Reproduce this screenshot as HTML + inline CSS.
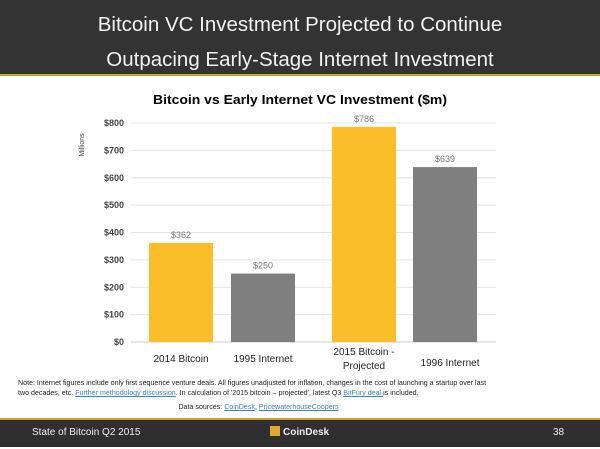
<!DOCTYPE html>
<html><head><meta charset="utf-8"><style>
body{margin:0;width:600px;height:449px;overflow:hidden;background:#fff;font-family:"Liberation Sans",Arial,sans-serif;position:relative}
.hdr{position:absolute;left:0;top:0;width:600px;height:76px;background:#333;border-bottom:2px solid #c9a227;color:#f2f2f2;text-align:center;font-size:20.5px;line-height:35px;padding-top:7px;box-sizing:border-box}
.ftr{position:absolute;left:0;top:418px;width:600px;height:29px;background:#2f2f2f;border-top:2px solid #c9a227;box-sizing:border-box;color:#eee;font-size:10px}
.note{position:absolute;left:18px;top:378px;width:476px;font-size:7.1px;line-height:10px;color:#222}
a{color:#3a7fc9;text-decoration:underline}
</style></head><body>
<div class="hdr">Bitcoin VC Investment Projected to Continue<br>Outpacing Early-Stage Internet Investment</div>
<svg id="chart" width="600" height="449" style="position:absolute;left:0;top:0">
<text x="300" y="104" text-anchor="middle" font-size="13" font-weight="bold" fill="#000" textLength="294" lengthAdjust="spacingAndGlyphs">Bitcoin vs Early Internet VC Investment ($m)</text>
<text transform="translate(84,145) rotate(-90)" text-anchor="middle" font-size="7" fill="#444">Millions</text>
<g id="grid"></g><g id="bars"></g>
</svg>
<div class="note">Note: Internet figures include only first sequence venture deals. All figures unadjusted for inflation, changes in the cost of launching a startup over last two decades, etc. <a>Further methodology discussion</a>. In calculation of '2015 bitcoin – projected', latest Q3 <a>BitFury deal </a>is included.
<div style="text-align:center;margin-top:4px;padding-left:5px">Data sources: <a>CoinDesk</a>, <a>PricewaterhouseCoopers</a></div></div>
<div class="ftr">
<span style="position:absolute;left:32px;top:7px">State of Bitcoin Q2 2015</span>
<span style="position:absolute;left:270px;top:6px;font-weight:bold;font-size:10px"><span style="display:inline-block;width:10px;height:10px;background:#e0a82e;vertical-align:-1px;margin-right:3px"></span>CoinDesk</span>
<span style="position:absolute;left:553px;top:7px">38</span>
</div>
<script>
const categories=["2014 Bitcoin","1995 Internet","2015 Bitcoin -|Projected","1996 Internet"];
const values=[362,250,786,639];
const valueLabels=["$362","$250","$786","$639"];
const ticks=[0,100,200,300,400,500,600,700,800];
const colors=["#fbbd2a","#7f7f7f","#fbbd2a","#7f7f7f"];
const NS="http://www.w3.org/2000/svg";
const y=v=>342-v*(219/800);
const barX=[149,231,332,413],bw=64;
const grid=document.getElementById('grid'),bars=document.getElementById('bars');
function mk(t,a,p,txt){const e=document.createElementNS(NS,t);for(const k in a)e.setAttribute(k,a[k]);if(txt!==undefined)e.textContent=txt;p.appendChild(e);return e;}
ticks.forEach(t=>{
 const l=mk('line',{x1:131,x2:496,y1:y(t),y2:y(t),stroke:t===0?'#ccc':'#e4e4e4','stroke-width':1},grid);
 
 
 const tx=mk('text',{x:124,y:y(t)+3,'text-anchor':'end','font-size':9,'font-weight':'bold',fill:'#444'},grid,'$'+t);
 
 
});
values.forEach((v,i)=>{
 const r=mk('rect',{x:barX[i],y:y(v),width:bw,height:342-y(v),fill:colors[i]},bars);
 
 
 const vl=mk('text',{x:barX[i]+bw/2,y:y(v)-5,'text-anchor':'middle','font-size':9,fill:'#777'},bars,valueLabels[i]);
 
 
 const parts=categories[i].split('|');
 const base=parts.length>1?355:362;
 parts.forEach((p,j)=>{
  const c=mk('text',{x:barX[i]+bw/2+(i===3?5:0),y:base+j*14+(i===3?4:0),'text-anchor':'middle','font-size':10,fill:'#222'},bars,p);
  
  
 });
});
</script>
</body></html>
